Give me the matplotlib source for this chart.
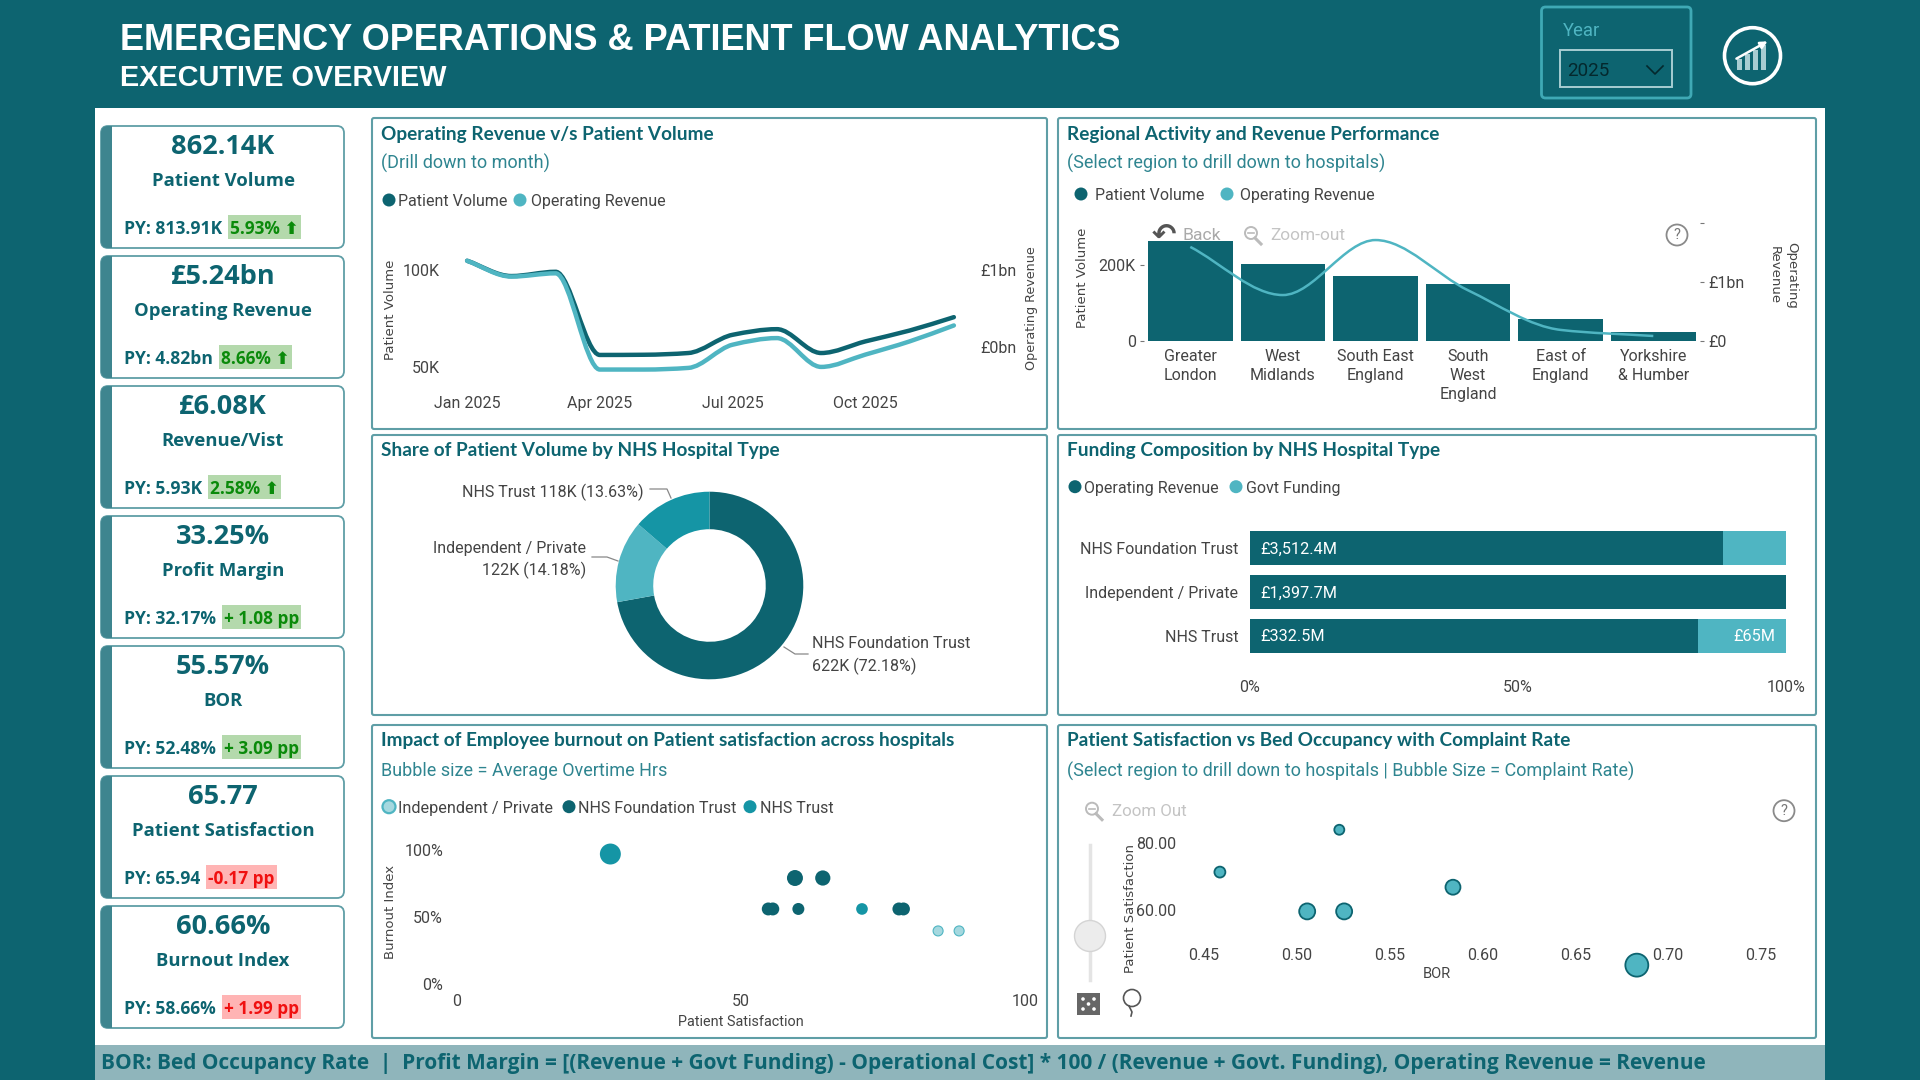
import numpy as np
import matplotlib
matplotlib.use("Agg")
import matplotlib.pyplot as plt
from matplotlib.patches import Circle, FancyBboxPatch, PathPatch, Rectangle
from matplotlib.path import Path

# colours
TEAL = "#0d6470"
LIGHT = "#4fb5c2"
MID = "#1595a5"
PALE = "#a5d8df"
SUB = "#2f8590"
BORDER = "#5f9ea6"
GREY = "#444444"
FOOT = "#8fb5bb"

BODY = ["Roboto", "DejaVu Sans"]
KPI = ["Open Sans", "DejaVu Sans"]
HEAD = ["Lato", "Roboto"]

# KPI cards
kpi_values = ["862.14K", "£5.24bn", "£6.08K", "33.25%", "55.57%", "65.77", "60.66%"]
kpi_names = ["Patient Volume", "Operating Revenue", "Revenue/Vist", "Profit Margin",
             "BOR", "Patient Satisfaction", "Burnout Index"]
kpi_prev = ["PY: 813.91K", "PY: 4.82bn", "PY: 5.93K", "PY: 32.17%",
            "PY: 52.48%", "PY: 65.94", "PY: 58.66%"]
kpi_delta = ["5.93% ⬆", "8.66% ⬆", "2.58% ⬆", "+ 1.08 pp", "+ 3.09 pp", "-0.17 pp", "+ 1.99 pp"]
kpi_good = [True, True, True, True, True, False, False]

# monthly trend
months = ["Jan 2025", "Apr 2025", "Jul 2025", "Oct 2025"]
month_pos = [0, 3, 6, 9]
volume_k = [104.8, 96.9, 99.1, 56.2, 56.3, 57.2, 66.6, 69.5, 57.2, 63.2, 68.8, 75.7]
revenue_bn = [1.084, 0.94, 0.97, 0.095, 0.095, 0.11, 0.321, 0.381, 0.119, 0.231, 0.351, 0.496]

# regions
regions = ["Greater\nLondon", "West\nMidlands", "South East\nEngland", "South\nWest\nEngland",
           "East of\nEngland", "Yorkshire\n& Humber"]
region_volume_k = [264, 202.6, 172.8, 150.9, 59.6, 24.6]
region_revenue_bn = [1.60, 0.784, 1.716, 0.864, 0.193, 0.09]

# hospital types
share_values = [622, 122, 118]
funding_types = ["NHS Foundation Trust", "Independent / Private", "NHS Trust"]
funding_revenue = [3512.4, 1397.7, 332.5]
funding_govt = [470, 0, 65]
funding_rev_labels = ["£3,512.4M", "£1,397.7M", "£332.5M"]

# burnout bubbles
fnd_sat = [59.5, 64.4, 54.8, 55.6, 60.1, 77.8, 78.6]
fnd_burn = [79.1, 79.1, 56, 56, 56, 56, 56]
fnd_hours = [64, 58, 42, 42, 36, 42, 42]
trust_sat = [27.0, 71.3]
trust_burn = [97, 56]
trust_hours = [110, 34]
ind_sat = [84.7, 88.4]
ind_burn = [39.6, 39.6]
ind_hours = [25, 25]

# bed occupancy bubbles
bor = [0.5229, 0.4586, 0.5841, 0.5056, 0.5255, 0.6831]
bor_sat = [84.0, 71.4, 66.9, 59.7, 59.7, 43.7]
complaint_rate = [25, 30, 56, 64, 64, 132]

W, H = 1920, 1080
fig = plt.figure(figsize=(W / 100, H / 100), dpi=100, facecolor=TEAL)


def px_axes(left, top, right, bottom, **kw):
    return fig.add_axes([left / W, 1 - bottom / H, (right - left) / W, (bottom - top) / H], **kw)


page = px_axes(0, 0, W, H)
page.set_xlim(0, W)
page.set_ylim(H, 0)
page.axis("off")
page.set_zorder(0)

over = px_axes(0, 0, W, H)
over.set_xlim(0, W)
over.set_ylim(H, 0)
over.axis("off")
over.patch.set_alpha(0)
over.set_zorder(10)


def txt(x, y, s, size, color=GREY, ha="left", weight="normal", family=BODY, ax=page, **kw):
    return ax.text(x, y + 1.5, s, fontsize=size, color=color, ha=ha, va="center",
                   fontweight=weight, family=family, **kw)


def round_box(x0, y0, x1, y1, r, fc, ec, lw, ax=page, zorder=1):
    p = FancyBboxPatch((x0 + r, y0 + r), x1 - x0 - 2 * r, y1 - y0 - 2 * r,
                       boxstyle=f"round,pad={r},rounding_size={r}",
                       fc=fc, ec=ec, lw=lw, zorder=zorder)
    ax.add_patch(p)
    return p


def legend(y, items, size=11.5):
    for dot, label, tx, col in items:
        page.add_patch(Circle((dot, y), 6.5, fc=col, ec=col, lw=0, zorder=2))
        txt(tx, y, label, size)


def magnifier(ax, x, y):
    ax.add_patch(Circle((x, y - 2), 6, fc="none", ec="#bbbbbb", lw=1.4))
    ax.plot([x - 3, x + 3], [y - 2, y - 2], color="#bbbbbb", lw=1.2)
    ax.plot([x + 4, x + 10], [y + 3, y + 9], color="#bbbbbb", lw=2.2)


def help_icon(ax, x, y):
    ax.add_patch(Circle((x, y), 10.5, fc="white", ec="#8a8a8a", lw=1.3))
    txt(x, y - 1.5, "?", 10.5, "#777777", ha="center", ax=ax)


def smooth_path(xs, ys):
    # monotone cubic tangents turned into bezier segments between the data points
    xs = np.asarray(xs, float)
    ys = np.asarray(ys, float)
    h = np.diff(xs)
    d = np.diff(ys) / h
    m = np.zeros(len(xs))
    m[0], m[-1] = d[0], d[-1]
    for i in range(1, len(xs) - 1):
        if d[i - 1] * d[i] > 0:
            m[i] = 2 * d[i - 1] * d[i] / (d[i - 1] + d[i])
    verts = [(xs[0], ys[0])]
    codes = [Path.MOVETO]
    for i in range(len(xs) - 1):
        verts += [(xs[i] + h[i] / 3, ys[i] + m[i] * h[i] / 3),
                  (xs[i + 1] - h[i] / 3, ys[i + 1] - m[i + 1] * h[i] / 3),
                  (xs[i + 1], ys[i + 1])]
        codes += [Path.CURVE4] * 3
    return Path(verts, codes)


def clean(ax):
    for s in ax.spines.values():
        s.set_visible(False)
    ax.patch.set_alpha(0)
    ax.set_zorder(2)


# frame, header, footer
page.add_patch(Rectangle((95, 108), 1730, 937, fc="white", ec="none", zorder=0))
page.add_patch(Rectangle((95, 1045), 1730, 35, fc=FOOT, ec="none", zorder=0))
txt(120, 39, "EMERGENCY OPERATIONS & PATIENT FLOW ANALYTICS", 26, "white", weight="bold", family=["Liberation Sans"])
txt(120, 76, "EXECUTIVE OVERVIEW", 20.8, "white", weight="bold", family=["Liberation Sans"])
txt(101, 1061.5, "BOR: Bed Occupancy Rate  |  Profit Margin = [(Revenue + Govt Funding) - Operational Cost] * 100 / (Revenue + Govt. Funding), Operating Revenue = Revenue",
    15.0, TEAL, weight="bold", family=KPI)

# year slicer and logo
round_box(1541.5, 7, 1691, 98, 4, "none", "#3fa9b5", 2)
txt(1563, 29, "Year", 13.3, LIGHT)
page.add_patch(Rectangle((1559.5, 50), 112.5, 36.7, fc="none", ec="#a8cdd2", lw=1.4))
txt(1567, 69, "2025", 13.5, "#04282d")
page.plot([1647, 1655, 1663], [66, 74, 66], color="#04282d", lw=1.2)
page.add_patch(Circle((1752.5, 55.7), 28, fc="none", ec="white", lw=2.6))
for bx, bh in zip([1737, 1745, 1753, 1761], [11, 16, 20, 25]):
    page.add_patch(Rectangle((bx, 70 - bh), 5, bh, fc="#a8cdd2", ec="none"))
page.annotate("", xy=(1770, 40), xytext=(1734, 60),
              arrowprops=dict(arrowstyle="-|>", color="white", lw=1.8))

# KPI cards
renderer = fig.canvas.get_renderer()
for i in range(7):
    y0 = 126 + 130 * i
    round_box(101, y0, 344, y0 + 122, 7, "white", BORDER, 1.3)
    stripe = round_box(101, y0, 130, y0 + 122, 7, "#3e858f", "none", 0, zorder=2)
    stripe.set_clip_path(Rectangle((101, y0), 11, 122, transform=page.transData))
    txt(223, y0 + 20, kpi_values[i], 19.5, TEAL, ha="center", weight="bold", family=KPI, zorder=3)
    txt(223, y0 + 54, kpi_names[i], 13.3, TEAL, ha="center", weight="bold", family=KPI, zorder=3)
    prev = txt(124, y0 + 102, kpi_prev[i], 12.6, TEAL, weight="bold", family=KPI, zorder=3)
    bx0 = prev.get_window_extent(renderer).x1 + 6
    fg, bg = ("#0a8a0a", "#b4d9ac") if kpi_good[i] else ("#f01010", "#ffb4b4")
    delta = txt(bx0 + 2, y0 + 102, kpi_delta[i], 12.4, fg, weight="bold", family=KPI, zorder=3)
    bx1 = delta.get_window_extent(renderer).x1 + 2
    page.add_patch(Rectangle((bx0, y0 + 89), bx1 - bx0, 24, fc=bg, ec="none", zorder=2))

# panels
panels = [(372, 118, 1047, 429), (1058, 118, 1816, 429),
          (372, 435, 1047, 715), (1058, 435, 1816, 715),
          (372, 725, 1047, 1038), (1058, 725, 1816, 1038)]
for p in panels:
    round_box(p[0], p[1], p[2], p[3], 2, "white", BORDER, 1.5)

TITLE = 13.7
SUBTITLE = 13
txt(381, 133, "Operating Revenue v/s Patient Volume", TITLE, TEAL, weight="bold", family=HEAD)
txt(381, 162, "(Drill down to month)", SUBTITLE, SUB)
txt(1067, 133, "Regional Activity and Revenue Performance", TITLE, TEAL, weight="bold", family=HEAD)
txt(1067, 162, "(Select region to drill down to hospitals)", SUBTITLE, SUB)
txt(381, 449, "Share of Patient Volume by NHS Hospital Type", TITLE, TEAL, weight="bold", family=HEAD)
txt(1067, 449, "Funding Composition by NHS Hospital Type", TITLE, TEAL, weight="bold", family=HEAD)
txt(381, 739, "Impact of Employee burnout on Patient satisfaction across hospitals", TITLE, TEAL, weight="bold", family=HEAD)
txt(381, 770, "Bubble size = Average Overtime Hrs", SUBTITLE, SUB)
txt(1067, 739, "Patient Satisfaction vs Bed Occupancy with Complaint Rate", TITLE, TEAL, weight="bold", family=HEAD)
txt(1067, 770, "(Select region to drill down to hospitals | Bubble Size = Complaint Rate)", SUBTITLE, SUB)

# monthly trend
legend(200, [(389, "Patient Volume", 398, TEAL), (520, "Operating Revenue", 531, LIGHT)])
ax = px_axes(445, 240, 976, 385)
clean(ax)
ax.set_xlim(-0.5, 11.5)
ax.set_ylim(40.7, 115.5)
ax.set_xticks(month_pos, months)
ax.set_yticks([50, 100], ["50K", "100K"])
ax.tick_params(length=0, labelsize=11.5, labelcolor=GREY, pad=3.5)
ax.tick_params(axis="x", pad=8)
for t in ax.get_xticklabels() + ax.get_yticklabels():
    t.set_family(BODY)
mx = np.arange(len(volume_k))
ax.add_patch(PathPatch(smooth_path(mx, volume_k), fc="none", ec=TEAL, lw=3.2, capstyle="round"))
ax2 = ax.twinx()
clean(ax2)
ax2.set_ylim(-0.0455, 1.273)
ax2.set_yticks([0.3, 1.0], [f"£{v:.0f}bn" for v in [0.3, 1.0]])
ax2.tick_params(length=0, labelsize=11.5, labelcolor=GREY, pad=3)
for t in ax2.get_yticklabels():
    t.set_family(BODY)
ax2.add_patch(PathPatch(smooth_path(mx, revenue_bn), fc="none", ec=LIGHT, lw=3.2, capstyle="round"))
txt(390, 308, "Patient Volume", 9.5, GREY, ha="center", rotation=90, family=["DejaVu Sans"])
txt(1032, 307, "Operating Revenue", 9.2, GREY, ha="center", rotation=90, family=["DejaVu Sans"])

# regional bars
legend(194, [(1081, "Patient Volume", 1095, TEAL), (1227, "Operating Revenue", 1240, LIGHT)])
ax = px_axes(1144, 223.3, 1699.6, 341.3)
clean(ax)
ax.set_xlim(-0.5, 5.5)
ax.set_ylim(0, 310.5)
rx = np.arange(len(regions))
ax.bar(rx, region_volume_k, width=0.914, color=TEAL)
ax.set_xticks(rx, regions)
ax.set_yticks([0, 200], ["0", "200K"])
ax.tick_params(axis="x", length=0, labelsize=11.5, labelcolor=GREY, pad=5.5)
ax.tick_params(axis="y", length=3, width=0.8, color="#777777", labelsize=11.5, labelcolor=GREY, pad=3)
for t in ax.get_xticklabels() + ax.get_yticklabels():
    t.set_family(BODY)
    t.set_linespacing(1.32)
ax2 = ax.twinx()
clean(ax2)
ax2.set_ylim(0, 2)
ax2.set_yticks([0, 1, 2], ["£0", "£1bn", ""])
ax2.tick_params(length=3, width=0.8, color="#777777", labelsize=11.5, labelcolor=GREY, pad=3)
for t in ax2.get_yticklabels():
    t.set_family(BODY)
ax2.add_patch(PathPatch(smooth_path(rx, region_revenue_bn), fc="none", ec=LIGHT, lw=1.8))
txt(1083, 276, "Patient Volume", 9.5, GREY, ha="center", rotation=90, family=["DejaVu Sans"])
txt(1783, 274, "Operating\nRevenue", 9.5, GREY, ha="center", rotation=270, family=["DejaVu Sans"], ax=over, linespacing=1.35)
txt(1164, 234, "↶", 21, "#555555", ha="center", weight="bold", family=["DejaVu Sans"], ax=over)
txt(1182, 234, "Back", 12.6, "#aaaaaa", ax=over)
magnifier(over, 1251, 235)
txt(1270, 234, "Zoom-out", 12.4, "#c4c4c4", ax=over)
help_icon(over, 1677, 235)

# donut
ax = px_axes(709.5 - 93.8, 585.5 - 93.8, 709.5 + 93.8, 585.5 + 93.8)
ax.set_zorder(2)
ax.pie(share_values, colors=[TEAL, LIGHT, MID], startangle=90, counterclock=False, radius=1,
       wedgeprops=dict(width=0.4, linewidth=0))
ax.set_xlim(-1, 1)
ax.set_ylim(-1, 1)
txt(644, 490.5, "NHS Trust 118K (13.63%)", 11.5, ha="right")
txt(586, 546.5, "Independent / Private", 11.5, ha="right")
txt(586, 569, "122K (14.18%)", 11.5, ha="right")
txt(812, 642.5, "NHS Foundation Trust", 11.5)
txt(812, 664.5, "622K (72.18%)", 11.5)
page.plot([650, 667, 671], [489, 489, 498], color="#888888", lw=0.9)
page.plot([592, 607, 618], [557, 557, 561], color="#888888", lw=0.9)
page.plot([784, 795, 808], [647, 654, 654], color="#888888", lw=0.9)

# stacked funding bars
legend(486.7, [(1075, "Operating Revenue", 1084, TEAL), (1236, "Govt Funding", 1245.5, LIGHT)])
ax = px_axes(1250, 526, 1786, 658)
clean(ax)
fy = np.arange(len(funding_types))
rev = np.array(funding_revenue)
gov = np.array(funding_govt)
rev_share = rev / (rev + gov) * 100
gov_share = gov / (rev + gov) * 100
ax.barh(fy, rev_share, height=0.757, color=TEAL)
ax.barh(fy, gov_share, left=rev_share, height=0.757, color=LIGHT)
ax.set_xlim(0, 100)
ax.set_ylim(2.5, -0.5)
ax.set_yticks(fy, funding_types)
ax.set_xticks([0, 50, 100], ["0%", "50%", "100%"])
ax.tick_params(length=0, labelsize=11.5, labelcolor=GREY)
ax.tick_params(axis="x", pad=16)
ax.tick_params(axis="y", pad=8.5)
for t in ax.get_xticklabels() + ax.get_yticklabels():
    t.set_family(BODY)
for i, lab in enumerate(funding_rev_labels):
    ax.text(2, i + 0.02, lab, color="white", fontsize=11.7, va="center", family=BODY)
ax.text(98, 2.02, "£65M", color="white", fontsize=11.7, va="center", ha="right", family=BODY)

# burnout bubbles
page.add_patch(Circle((389, 806.7), 6.5, fc=PALE, ec=LIGHT, lw=1.6, zorder=2))
txt(398, 806.7, "Independent / Private", 11.7)
legend(806.7, [(569, "NHS Foundation Trust", 578, TEAL), (750, "NHS Trust", 760, MID)])
ax = px_axes(457, 850, 1025, 984)
clean(ax)
ax.set_xlim(0, 100)
ax.set_ylim(0, 100)
ax.scatter(ind_sat, ind_burn, s=np.array(ind_hours) * 2.07, color=PALE, edgecolor=LIGHT, lw=0.8, clip_on=False)
ax.scatter(fnd_sat, fnd_burn, s=np.array(fnd_hours) * 2.07, color=TEAL, lw=0, clip_on=False)
ax.scatter(trust_sat, trust_burn, s=np.array(trust_hours) * 2.07, color=MID, lw=0, clip_on=False)
ax.set_xticks([0, 50, 100], ["0", "50", "100"])
ax.set_yticks([0, 50, 100], ["0%", "50%", "100%"])
ax.tick_params(length=0, labelsize=11.5, labelcolor=GREY)
ax.tick_params(axis="x", pad=7)
ax.tick_params(axis="y", pad=10)
for t in ax.get_xticklabels() + ax.get_yticklabels():
    t.set_family(BODY)
txt(741, 1020, "Patient Satisfaction", 10.4, ha="center")
txt(390, 910, "Burnout Index", 9.5, ha="center", rotation=90, family=["DejaVu Sans"])

# bed occupancy bubbles
magnifier(page, 1092, 810.7)
txt(1112, 809.5, "Zoom Out", 12.2, "#c4c4c4")
help_icon(page, 1784, 810.7)
page.plot([1090, 1090], [845, 980], color="#e4e4e4", lw=2.5, zorder=2)
page.add_patch(Circle((1090, 936), 15.5, fc="#ececec", ec="#d4d4d4", lw=1, zorder=3))
page.add_patch(Rectangle((1077, 993), 23, 22, fc="#666666", ec="none", zorder=3))
for dx, dy in [(1083, 999), (1094, 999), (1088.5, 1004), (1083, 1009), (1094, 1009)]:
    page.add_patch(Circle((dx, dy), 1.8, fc="white", ec="none", zorder=4))
page.add_patch(Circle((1132, 998), 8.5, fc="white", ec="#555555", lw=1.2, zorder=3))
page.plot([1129, 1132, 1131], [1006, 1012, 1016], color="#555555", lw=1.2, zorder=3)

ax = px_axes(1190, 830, 1775, 946)
clean(ax)
ax.set_xlim(0.4425, 0.7575)
ax.set_ylim(49.4, 83.93)
ax.scatter(bor, bor_sat, s=np.array(complaint_rate) * 2.07, color=LIGHT, edgecolor=TEAL, lw=1.3, clip_on=False)
ax.set_xticks([0.45, 0.50, 0.55, 0.60, 0.65, 0.70, 0.75],
              ["0.45", "0.50", "0.55", "0.60", "0.65", "0.70", "0.75"])
ax.set_yticks([60, 80], ["60.00", "80.00"])
ax.tick_params(length=0, labelsize=11.5, labelcolor=GREY)
ax.tick_params(axis="x", pad=1.5)
ax.tick_params(axis="y", pad=10)
for t in ax.get_xticklabels() + ax.get_yticklabels():
    t.set_family(BODY)
txt(1436.6, 973, "BOR", 10.5, ha="center")
txt(1131, 906.7, "Patient Satisfaction", 9.5, ha="center", rotation=90, family=["DejaVu Sans"])

fig.savefig("out.png", dpi=100, facecolor=TEAL)
